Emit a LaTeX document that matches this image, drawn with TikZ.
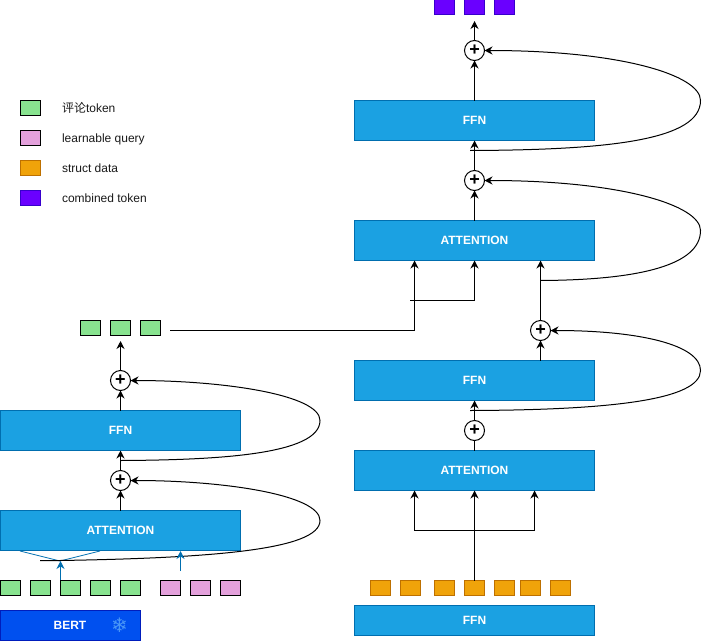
\documentclass[tikz,border=0pt]{standalone}
\usepackage{fontspec}
\setmainfont{Liberation Sans}
\newfontfamily\cjkfont{Noto Sans CJK SC}
\newfontfamily\symfont{DejaVu Sans}
\usetikzlibrary{arrows.meta}
\definecolor{blk}{HTML}{1BA1E2}
\definecolor{blkline}{HTML}{006EAF}
\definecolor{bertfill}{HTML}{0050EF}
\definecolor{bertline}{HTML}{001DBC}
\definecolor{greenf}{HTML}{88E38F}
\definecolor{pinkf}{HTML}{E4A1DC}
\definecolor{orangef}{HTML}{F0A30A}
\definecolor{orangel}{HTML}{BD7000}
\definecolor{purplef}{HTML}{6A00FF}
\definecolor{purplel}{HTML}{3700CC}
\definecolor{flake}{HTML}{4A97F7}
\tikzset{
  x=0.75pt,y=-0.75pt,
  every node/.style={inner sep=0pt,outer sep=0pt,font=\fontsize{9pt}{11pt}\selectfont},
  wide/.style={draw=blkline,fill=blk,line width=0.75pt,minimum width=180pt,text=white,font=\fontsize{9pt}{11pt}\selectfont\bfseries},
  tall/.style={wide,minimum height=30pt},
  short/.style={wide,minimum height=22.5pt},
  bert/.style={draw=bertline,fill=bertfill,line width=0.75pt,minimum width=105pt,minimum height=22.5pt,text=white},
  tok/.style={draw,line width=0.75pt,minimum width=15pt,minimum height=11.25pt},
  gtok/.style={tok,draw=black,fill=greenf},
  ptok/.style={tok,draw=black,fill=pinkf},
  otok/.style={tok,draw=orangel,fill=orangef},
  vtok/.style={tok,draw=purplel,fill=purplef},
  plus/.style={circle,draw=black,fill=white,line width=0.75pt,minimum size=15pt,font=\fontsize{13.5pt}{13.5pt}\selectfont\bfseries},
  legend/.style={anchor=base west,text=black!90},
  conn/.style={draw=black,line width=0.75pt},
  arr/.style={conn,-{Stealth[length=6pt,width=6pt]}},
  barr/.style={draw=blkline,line width=0.75pt,-{Stealth[length=6pt,width=6pt]}},
  bline/.style={draw=blkline,line width=0.6pt},
}
\begin{document}
\begin{tikzpicture}
\useasboundingbox (0,0) rectangle (702,642);
% legend
\node[gtok] (lg1) at (30.5,108) {};
\node[ptok] (lg2) at (30.5,138) {};
\node[otok] (lg3) at (30.5,168) {};
\node[vtok] (lg4) at (30.5,198) {};
\node[legend] (lt1) at (62,112) {{\cjkfont 评论}token};
\node[legend] (lt2) at (62,142) {learnable query};
\node[legend] (lt3) at (62,172) {struct data};
\node[legend] (lt4) at (62,202) {combined token};
% left column
\node[bert] (bert) at (70.5,625.5) {};
\node[text=white,font=\fontsize{9pt}{11pt}\selectfont\bfseries] (berttext) at (70,625) {BERT};
\node[text=flake,font=\symfont\fontsize{15pt}{15pt}\selectfont] (snow) at (119.5,625) {❄};
\foreach \n/\xx in {a/10.5,b/40.5,c/70.5,d/100.5,e/130.5}
  \node[gtok] (g\n) at (\xx,588) {};
\foreach \n/\xx in {a/170.5,b/200.5,c/230.5}
  \node[ptok] (p\n) at (\xx,588) {};
\node[tall] (latt) at (120.5,530.5) {ATTENTION};
\node[tall] (lffn) at (120.5,430.5) {FFN};
\node[plus] (lp1) at (120.5,480.5) {+};
\node[plus] (lp2) at (120.5,380.5) {+};
\foreach \n/\xx in {a/90.5,b/120.5,c/150.5}
  \node[gtok] (o\n) at (\xx,328) {};
\coordinate (fanL) at (20,551);
\coordinate (fanM) at (60,561);
\coordinate (fanR) at (100,551);
\coordinate (blueB) at (60.5,580);
\coordinate (pinkS) at (180.5,571);
\coordinate (pinkE) at (180.5,551);
\coordinate (lc1s) at (40,560.5);
\coordinate (lc2s) at (120.5,460.5);
\coordinate (lout) at (120.5,341);
\draw[bline] (fanL) -- (fanM) -- (fanR);
\draw[arr] (latt.north) -- (lp1.south);
\draw[arr] (lp1.north) -- (lffn.south);
\draw[arr] (lffn.north) -- (lp2.south);
\draw[arr] (lp2.north) -- (lout);
\draw[arr] (lc1s) -- (60,560.5) .. controls (210,558) and (320,550) .. (320,520.5)
  .. controls (320,495) and (225,480.5) .. (lp1.east);
\draw[arr] (lc2s) .. controls (215,460) and (320,455) .. (320,420.5)
  .. controls (320,395) and (225,380.5) .. (lp2.east);
\draw[barr] (blueB) -- (60.5,561);
\draw[barr] (pinkS) -- (pinkE);
% right column
\node[short] (rffn0) at (474.5,620.5) {FFN};
\foreach \n/\xx in {a/380.5,b/410.5,c/444.5,d/474.5,e/504.5,f/530.5,g/560.5}
  \node[otok] (s\n) at (\xx,588) {};
\node[tall] (ratt1) at (474.5,470.5) {ATTENTION};
\node[tall] (rffn1) at (474.5,380.5) {FFN};
\node[tall] (ratt2) at (474.5,240.5) {ATTENTION};
\node[tall] (rffn2) at (474.5,120.5) {FFN};
\node[plus] (rp1) at (474.5,430.5) {+};
\node[plus] (rp2) at (540.5,330.5) {+};
\node[plus] (rp3) at (474.5,180.5) {+};
\node[plus] (rp4) at (474.5,50.5) {+};
\foreach \n/\xx in {a/444.5,b/474.5,c/504.5}
  \node[vtok] (v\n) at (\xx,7.5) {};
% bottom fan
\coordinate (fork) at (474.5,530.5);
\coordinate (fl) at (414.5,530.5);
\coordinate (fr) at (534.5,530.5);
\coordinate (rout) at (474.5,21);
\draw[arr] (sd.north) -- (ratt1.south);
\draw[arr] (fork) -- (fl) -- (fl |- ratt1.south);
\draw[arr] (fork) -- (fr) -- (fr |- ratt1.south);
\draw[conn] (ratt1.north) -- (rp1.south);
\draw[arr] (rp1.north) -- (rffn1.south);
\draw[arr] (rp2 |- rffn1.north) -- (rp2.south);
\draw[arr] (rp2.north) -- (rp2 |- ratt2.south);
\draw[arr] (ratt2.north) -- (rp3.south);
\draw[arr] (rp3.north) -- (rffn2.south);
\draw[arr] (rffn2.north) -- (rp4.south);
\draw[arr] (rp4.north) -- (rout);
% cross connection
\coordinate (xs) at (170,330.5);
\coordinate (xc) at (414.5,330.5);
\coordinate (ys) at (410,300.5);
\coordinate (yc) at (474.5,300.5);
\draw[arr] (xs) -- (xc) -- (xc |- ratt2.south);
\draw[arr] (ys) -- (yc) -- (yc |- ratt2.south);
% residual curves
\coordinate (rc1s) at (470,410.5);
\coordinate (rc2s) at (540.5,280.5);
\coordinate (rc3s) at (470,150.5);
\draw[arr] (rc1s) .. controls (610,410) and (700.5,400) .. (700.5,370.5)
  .. controls (700.5,345) and (640,330.5) .. (rp2.east);
\draw[arr] (rc2s) .. controls (640,280) and (700.5,265) .. (700.5,230.5)
  .. controls (700.5,205) and (620,180.5) .. (rp3.east);
\draw[arr] (rc3s) .. controls (610,150) and (700.5,140) .. (700.5,100.5)
  .. controls (700.5,75) and (620,50.5) .. (rp4.east);
\end{tikzpicture}
\end{document}
